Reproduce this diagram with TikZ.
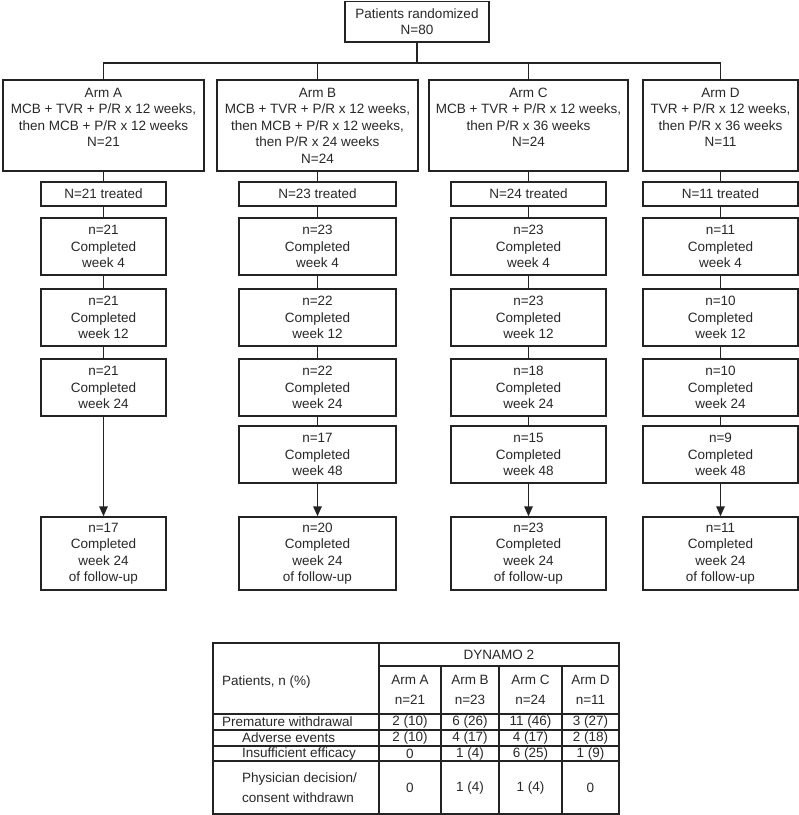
\documentclass[tikz,border=0pt]{standalone}
\usepackage{fontspec}
\setmainfont{Liberation Sans}
\usetikzlibrary{arrows.meta}
\definecolor{ink}{RGB}{35,35,35}
\definecolor{txt}{RGB}{40,40,40}
\begin{document}
\begin{tikzpicture}[x=1pt,y=-1pt,
  box/.style={draw=ink, line width=1.4pt, fill=white, align=center, inner sep=0pt, text=txt,
    font=\fontsize{13.5}{16.5}\selectfont},
  conn/.style={draw=ink, line width=1.4pt},
  arr/.style={draw=ink, line width=1.4pt, -{Triangle[width=8.5pt,length=10pt]}},
  tline/.style={draw=ink, line width=1.1pt},
  tframe/.style={draw=ink, line width=1.4pt},
  cell/.style={inner sep=0pt, text=txt, align=center, font=\fontsize{13.5}{19.5}\selectfont},
  lcell/.style={cell, anchor=west, align=left}
]
\useasboundingbox (0,0) rectangle (799,815);

% top
\node[box, minimum width=144pt, minimum height=40.5pt] (top) at (417,21.75) {Patients randomized\\N=80};

% arm boxes
\node[box, minimum width=201pt, minimum height=91pt] (armA) at (103.5,125.5)
  {Arm A\\MCB + TVR + P/R x 12 weeks,\\then MCB + P/R x 12 weeks\\N=21\\\phantom{N}};
\node[box, minimum width=201pt, minimum height=91pt] (armB) at (317.5,125.5)
  {Arm B\\MCB + TVR + P/R x 12 weeks,\\then MCB + P/R x 12 weeks,\\then P/R x 24 weeks\\N=24};
\node[box, minimum width=199pt, minimum height=91pt] (armC) at (528.5,125.5)
  {Arm C\\MCB + TVR + P/R x 12 weeks,\\then P/R x 36 weeks\\N=24\\\phantom{N}};
\node[box, minimum width=155pt, minimum height=91pt] (armD) at (720.5,125.5)
  {Arm D\\TVR + P/R x 12 weeks,\\then P/R x 36 weeks\\N=11\\\phantom{N}};

% connectors from top
\coordinate (j) at (417,63);
\draw[conn] (top.south) -- (j);
\draw[conn] (armA.north) |- (j) -| (armD.north);
\draw[conn] (armB.north) -- (armB.north |- j);
\draw[conn] (armC.north) -- (armC.north |- j);

% Arm A column
\node[box, minimum width=125pt, minimum height=24pt] (trA) at (103.5,194) {N=21 treated};
\node[box, minimum width=125pt, minimum height=57pt] (a4) at (103.5,246.5) {n=21\\Completed\\week 4};
\node[box, minimum width=125pt, minimum height=57pt] (a12) at (103.5,317.5) {n=21\\Completed\\week 12};
\node[box, minimum width=125pt, minimum height=57pt] (a24) at (103.5,387.5) {n=21\\Completed\\week 24};
\node[box, minimum width=125pt, minimum height=73pt] (afu) at (103.5,553.5) {n=17\\Completed\\week 24\\of follow-up};
\draw[conn] (armA) -- (trA);
\draw[conn] (trA) -- (a4);
\draw[conn] (a4) -- (a12);
\draw[conn] (a12) -- (a24);
\draw[arr] (a24) -- (afu);

% Arm B column
\node[box, minimum width=157pt, minimum height=24pt] (trB) at (317.5,194) {N=23 treated};
\node[box, minimum width=157pt, minimum height=57pt] (b4) at (317.5,246.5) {n=23\\Completed\\week 4};
\node[box, minimum width=157pt, minimum height=57pt] (b12) at (317.5,317.5) {n=22\\Completed\\week 12};
\node[box, minimum width=157pt, minimum height=57pt] (b24) at (317.5,387.5) {n=22\\Completed\\week 24};
\node[box, minimum width=157pt, minimum height=57pt] (b48) at (317.5,454.5) {n=17\\Completed\\week 48};
\node[box, minimum width=157pt, minimum height=73pt] (bfu) at (317.5,553.5) {n=20\\Completed\\week 24\\of follow-up};
\draw[conn] (armB) -- (trB);
\draw[conn] (trB) -- (b4);
\draw[conn] (b4) -- (b12);
\draw[conn] (b12) -- (b24);
\draw[conn] (b24) -- (b48);
\draw[arr] (b48) -- (bfu);

% Arm C column
\node[box, minimum width=155pt, minimum height=24pt] (trC) at (528.5,194) {N=24 treated};
\node[box, minimum width=155pt, minimum height=57pt] (c4) at (528.5,246.5) {n=23\\Completed\\week 4};
\node[box, minimum width=155pt, minimum height=57pt] (c12) at (528.5,317.5) {n=23\\Completed\\week 12};
\node[box, minimum width=155pt, minimum height=57pt] (c24) at (528.5,387.5) {n=18\\Completed\\week 24};
\node[box, minimum width=155pt, minimum height=57pt] (c48) at (528.5,454.5) {n=15\\Completed\\week 48};
\node[box, minimum width=155pt, minimum height=73pt] (cfu) at (528.5,553.5) {n=23\\Completed\\week 24\\of follow-up};
\draw[conn] (armC) -- (trC);
\draw[conn] (trC) -- (c4);
\draw[conn] (c4) -- (c12);
\draw[conn] (c12) -- (c24);
\draw[conn] (c24) -- (c48);
\draw[arr] (c48) -- (cfu);

% Arm D column
\node[box, minimum width=155pt, minimum height=24pt] (trD) at (720.5,194) {N=11 treated};
\node[box, minimum width=155pt, minimum height=57pt] (d4) at (720.5,246.5) {n=11\\Completed\\week 4};
\node[box, minimum width=155pt, minimum height=57pt] (d12) at (720.5,317.5) {n=10\\Completed\\week 12};
\node[box, minimum width=155pt, minimum height=57pt] (d24) at (720.5,387.5) {n=10\\Completed\\week 24};
\node[box, minimum width=155pt, minimum height=57pt] (d48) at (720.5,454.5) {n=9\\Completed\\week 48};
\node[box, minimum width=155pt, minimum height=73pt] (dfu) at (720.5,553.5) {n=11\\Completed\\week 24\\of follow-up};
\draw[conn] (armD) -- (trD);
\draw[conn] (trD) -- (d4);
\draw[conn] (d4) -- (d12);
\draw[conn] (d12) -- (d24);
\draw[conn] (d24) -- (d48);
\draw[arr] (d48) -- (dfu);

% table grid
\draw[tline] (379,643) -- (379,814);
\draw[tline] (379,666) -- (619,666);
\foreach \xx in {441,499,562} \draw[tline] (\xx,666) -- (\xx,814);
\foreach \yy in {714,730,746,761} \draw[tline] (213,\yy) -- (619,\yy);
\draw[tframe] (213,643) rectangle (619,814);

% table texts
\node[cell] (dyn) at (499,654.5) {DYNAMO 2};
\node[lcell] (pat) at (222,682) {Patients, n (\%)};
\node[cell] (hA) at (410,690) {Arm A\\n=21};
\node[cell] (hB) at (470,690) {Arm B\\n=23};
\node[cell] (hC) at (530.5,690) {Arm C\\n=24};
\node[cell] (hD) at (590.5,690) {Arm D\\n=11};

\node[lcell] (r1) at (222,722) {Premature withdrawal};
\node[lcell] (r2) at (242,738) {Adverse events};
\node[lcell] (r3) at (242,753.5) {Insufficient efficacy};
\node[lcell] (r4) at (242,787.5) {Physician decision/\\consent withdrawn};

\node[cell] at (410,722) {2 (10)};
\node[cell] at (470,722) {6 (26)};
\node[cell] at (530.5,722) {11 (46)};
\node[cell] at (590.5,722) {3 (27)};

\node[cell] at (410,738) {2 (10)};
\node[cell] at (470,738) {4 (17)};
\node[cell] at (530.5,738) {4 (17)};
\node[cell] at (590.5,738) {2 (18)};

\node[cell] at (410,753.5) {0};
\node[cell] at (470,753.5) {1 (4)};
\node[cell] at (530.5,753.5) {6 (25)};
\node[cell] at (590.5,753.5) {1 (9)};

\node[cell] at (410,787.5) {0};
\node[cell] at (470,787.5) {1 (4)};
\node[cell] at (530.5,787.5) {1 (4)};
\node[cell] at (590.5,787.5) {0};
\end{tikzpicture}
\end{document}
